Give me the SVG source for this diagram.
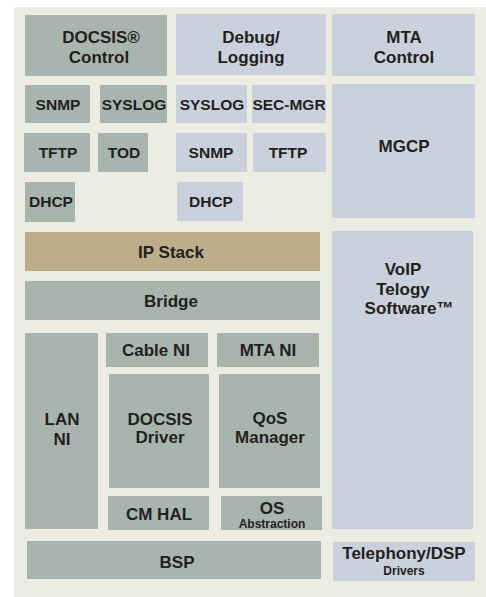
<svg xmlns="http://www.w3.org/2000/svg" width="486" height="597" viewBox="0 0 486 597">
<style>
.g{fill:#a8b5ae}
.b{fill:#cad1dc}
.t{fill:#bcae8b}
text{font-family:"Liberation Sans",Arial,sans-serif;font-weight:bold;fill:#231f20;text-anchor:middle}
.h{font-size:17px}
.s{font-size:15.5px}
.x{font-size:12px}
</style>
<rect x="0" y="0" width="486" height="597" fill="#ffffff"/>
<rect x="14" y="7" width="472" height="590" fill="#edece2"/>
<g id="docsis-control"><rect class="g" x="25" y="15" width="142" height="61"/><text class="h" x="101" y="43">DOCSIS®</text><text class="h" x="99" y="63">Control</text></g>
<g id="debug-logging"><rect class="b" x="176" y="14" width="150" height="61"/><text class="h" x="251" y="43">Debug/</text><text class="h" x="251" y="63">Logging</text></g>
<g id="mta-control"><rect class="b" x="332" y="14" width="143" height="62"/><text class="h" x="404" y="43">MTA</text><text class="h" x="404" y="63">Control</text></g>
<g id="snmp-g"><rect class="g" x="25" y="85" width="65" height="38"/><text class="s" x="58" y="110">SNMP</text></g>
<g id="syslog-g"><rect class="g" x="100" y="85" width="67" height="38"/><text class="s" x="134" y="110">SYSLOG</text></g>
<g id="syslog-b"><rect class="b" x="176" y="85" width="71" height="38"/><text class="s" x="212" y="110">SYSLOG</text></g>
<g id="sec-mgr"><rect class="b" x="252" y="85" width="74" height="38"/><text class="s" x="289" y="110">SEC-MGR</text></g>
<g id="tftp-g"><rect class="g" x="24" y="133" width="66" height="39"/><text class="s" x="58" y="158">TFTP</text></g>
<g id="tod"><rect class="g" x="98" y="133" width="50" height="39"/><text class="s" x="124" y="158">TOD</text></g>
<g id="snmp-b"><rect class="b" x="176" y="133" width="71" height="39"/><text class="s" x="211" y="158">SNMP</text></g>
<g id="tftp-b"><rect class="b" x="253" y="133" width="73" height="39"/><text class="s" x="288" y="158">TFTP</text></g>
<g id="dhcp-g"><rect class="g" x="25" y="182" width="50" height="40"/><text class="s" x="51" y="207">DHCP</text></g>
<g id="dhcp-b"><rect class="b" x="177" y="182" width="66" height="39"/><text class="s" x="211" y="207">DHCP</text></g>
<g id="mgcp"><rect class="b" x="332" y="84" width="143" height="134"/><text class="h" x="404" y="152">MGCP</text></g>
<g id="ip-stack"><rect class="t" x="25" y="232" width="295" height="39"/><text class="h" x="171" y="258">IP Stack</text></g>
<g id="bridge"><rect class="g" x="25" y="281" width="295" height="39"/><text class="h" x="171" y="307">Bridge</text></g>
<g id="voip"><rect class="b" x="332" y="231" width="141" height="298"/><text class="h" x="403" y="275">VoIP</text><text class="h" x="403" y="295">Telogy</text><text class="h" x="409" y="314">Software™</text></g>
<g id="lan-ni"><rect class="g" x="25" y="333" width="73" height="196"/><text class="h" x="62" y="425">LAN</text><text class="h" x="62" y="445">NI</text></g>
<g id="cable-ni"><rect class="g" x="106" y="333" width="102" height="34"/><text class="h" x="156" y="356">Cable NI</text></g>
<g id="mta-ni"><rect class="g" x="217" y="333" width="102" height="34"/><text class="h" x="268" y="356">MTA NI</text></g>
<g id="docsis-driver"><rect class="g" x="109" y="374" width="100" height="114"/><text class="h" x="160" y="425">DOCSIS</text><text class="h" x="160" y="443">Driver</text></g>
<g id="qos-manager"><rect class="g" x="219" y="374" width="101" height="114"/><text class="h" x="270" y="424">QoS</text><text class="h" x="270" y="443">Manager</text></g>
<g id="cm-hal"><rect class="g" x="108" y="496" width="101" height="34"/><text class="h" x="159" y="520">CM HAL</text></g>
<g id="os-abstraction"><rect class="g" x="221" y="496" width="101" height="34"/><text class="h" x="272" y="514">OS</text><text class="x" x="272" y="527.5">Abstraction</text></g>
<g id="bsp"><rect class="g" x="27" y="541" width="294" height="38"/><text class="h" x="177" y="568">BSP</text></g>
<g id="telephony-dsp"><rect class="b" x="333" y="542" width="142" height="39"/><text class="h" x="404" y="559">Telephony/DSP</text><text class="x" x="404" y="575">Drivers</text></g>
<g id="connectors"></g>
</svg>
